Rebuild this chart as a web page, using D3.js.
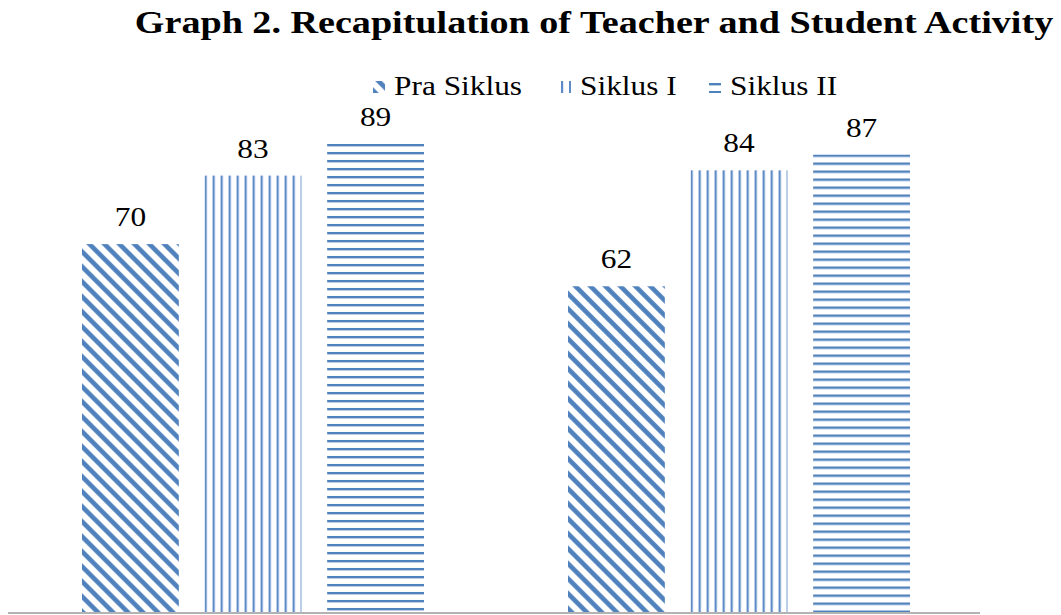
<!DOCTYPE html>
<html>
<head>
<meta charset="utf-8">
<script src="https://cdn.jsdelivr.net/npm/d3@7"></script>
<style>
  html, body { margin: 0; padding: 0; background: #fff; overflow: hidden; }
  svg { display: block; }
  text { font-family: 'Liberation Serif', 'Times New Roman', Tinos, serif; }
</style>
</head>
<body>
<script>
// data
const categories = ['Teacher Activity', 'Student Activity']
const seriesNames = ['Pra Siklus', 'Siklus I', 'Siklus II']
const praSiklus = [70, 62]
const siklusI = [83, 84]
const siklusII = [89, 87]
const yTicks = [0, 20, 40, 60, 80, 100]

const width = 1061
const height = 615
const blue = '#4F81BD'
const stretch = 1.12 // the picture's text is a bit wider than tall

const svg = d3.select('body').append('svg')
  .attr('width', width)
  .attr('height', height)

const defs = svg.append('defs')

const x0 = d3.scaleBand()
  .domain(categories)
  .range([8, 980])

const x1 = d3.scaleBand()
  .domain(seriesNames)
  .range([74, 416])
  .paddingInner(0.21)

const y = d3.scaleLinear()
  .domain([yTicks[0], yTicks[yTicks.length - 1]])
  .range([613, 86])

const values = [praSiklus, siklusI, siklusII]

// builds a pattern anchored at (px, py) for series s
const makePattern = (id, s, px, py) => {
  if (s === 0) {
    const p = defs.append('pattern')
      .attr('id', id)
      .attr('patternUnits', 'userSpaceOnUse')
      .attr('width', 10.6)
      .attr('height', 10.6)
      .attr('patternTransform', `translate(${px},${py}) rotate(-45)`)
    p.append('rect')
      .attr('x', 3).attr('y', 0)
      .attr('width', 4.6).attr('height', 10.6)
      .attr('fill', blue)
  } else if (s === 1) {
    const p = defs.append('pattern')
      .attr('id', id)
      .attr('patternUnits', 'userSpaceOnUse')
      .attr('x', px).attr('y', py)
      .attr('width', 8).attr('height', 8)
    p.append('rect')
      .attr('x', 0).attr('y', 0)
      .attr('width', 2.2).attr('height', 8)
      .attr('fill', '#5d8bc8')
  } else {
    const p = defs.append('pattern')
      .attr('id', id)
      .attr('patternUnits', 'userSpaceOnUse')
      .attr('x', px).attr('y', py)
      .attr('width', 8).attr('height', 8)
    p.append('rect')
      .attr('x', 0).attr('y', 0)
      .attr('width', 8).attr('height', 2.4)
      .attr('fill', blue)
  }
  return `url(#${id})`
}

// text placed at (tx, ty), stretched sideways
const addText = (parent, tx, ty, str, size, anchor, weight, sx) => {
  parent.append('text')
    .attr('transform', `translate(${tx},${ty}) scale(${sx || stretch},1)`)
    .attr('text-anchor', anchor)
    .attr('font-size', size)
    .attr('font-weight', weight || 'normal')
    .attr('fill', '#000')
    .text(str)
}

const bars = []
categories.forEach((c, i) => {
  seriesNames.forEach((s, j) => {
    bars.push({ cat: c, series: s, si: j, ci: i, value: values[j][i] })
  })
})

const barG = svg.append('g')
barG.selectAll('rect')
  .data(bars)
  .join('rect')
  .attr('x', d => x0(d.cat) + x1(d.series))
  .attr('y', d => y(d.value))
  .attr('width', x1.bandwidth())
  .attr('height', d => y(0) - y(d.value))
  .attr('fill', d => makePattern(`bar-${d.ci}-${d.si}`, d.si, x0(d.cat) + x1(d.series), y(d.value)))

// value labels
bars.forEach(d => {
  addText(barG, x0(d.cat) + x1(d.series) + x1.bandwidth() / 2, y(d.value) - 18, d.value, 28, 'middle')
})

// baseline
svg.append('line')
  .attr('x1', x0.range()[0]).attr('x2', x0.range()[1])
  .attr('y1', y(0)).attr('y2', y(0))
  .attr('stroke', '#b3b3b3')
  .attr('stroke-width', 2)

// title
addText(svg, 594, 33, 'Graph 2. Recapitulation of Teacher and Student Activity', 31, 'middle', 'bold', 1.23)

// legend
const legendX = [373, 559, 709]
const legend = svg.append('g')
seriesNames.forEach((s, j) => {
  const lx = legendX[j]
  legend.append('rect')
    .attr('x', lx).attr('y', 81)
    .attr('width', 12).attr('height', 12)
    .attr('fill', makePattern(`leg-${j}`, j, lx + (j === 1 ? 2 : 0), 83))
  addText(legend, lx + 21, 95, s, 28, 'start')
})
</script>
</body>
</html>
